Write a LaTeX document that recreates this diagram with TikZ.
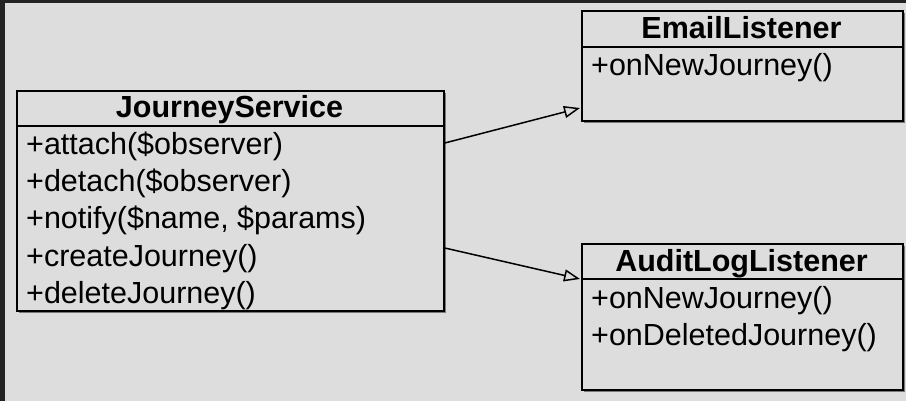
\documentclass[tikz,border=0pt]{standalone}
\usepackage{fontspec}
\setmainfont{Liberation Sans}
\usetikzlibrary{arrows.meta,shadows}

\definecolor{canvas}{HTML}{DDDDDD}
\definecolor{frame}{HTML}{232323}

\tikzset{
  classbox/.style={draw=black, line width=1.8pt, fill=canvas, inner sep=0pt,
    anchor=north west,
    drop shadow={shadow xshift=2pt, shadow yshift=-2pt, opacity=0.45, fill=black}},
  divider/.style={draw=black, line width=1.8pt},
  classname/.style={anchor=base, inner sep=0pt, font=\fontsize{30.5}{36}\selectfont\bfseries},
  member/.style={anchor=base west, inner sep=0pt, font=\fontsize{30.5}{36}\selectfont},
  observes/.style={draw=black, line width=1.5pt,
    -{Triangle[open, length=16pt, width=12pt, line width=1.5pt]}}
}

\begin{document}
\begin{tikzpicture}[x=1pt, y=-1pt]
  % page background with the dark frame on the top and left
  \fill[frame] (0,0) rectangle (906,401);
  \fill[canvas] (5,3) rectangle (906,401);
  \useasboundingbox (0,0) rectangle (906,401);

  % JourneyService
  \node[classbox, minimum width=427pt, minimum height=220pt] (js) at (16,90) {};
  \draw[divider] (js.west |- 0,126) -- (js.east |- 0,126);
  \node[classname] (jsname) at (229.5,118) {JourneyService};
  \node[member] (jsm1) at (26,155) {+attach(\$observer)};
  \node[member] (jsm2) at (26,192) {+detach(\$observer)};
  \node[member] (jsm3) at (26,229) {+notify(\$name, \$params)};
  \node[member] (jsm4) at (26,266) {+createJourney()};
  \node[member] (jsm5) at (26,303) {+deleteJourney()};

  % EmailListener
  \node[classbox, minimum width=321pt, minimum height=110pt] (email) at (581,10) {};
  \draw[divider] (email.west |- 0,47) -- (email.east |- 0,47);
  \node[classname] (emailname) at (741.5,39) {EmailListener};
  \node[member] (emailm1) at (591,76) {+onNewJourney()};

  % AuditLogListener
  \node[classbox, minimum width=321pt, minimum height=146pt] (audit) at (581,243) {};
  \draw[divider] (audit.west |- 0,279) -- (audit.east |- 0,279);
  \node[classname] (auditname) at (741.5,271) {AuditLogListener};
  \node[member] (auditm1) at (591,308) {+onNewJourney()};
  \node[member] (auditm2) at (591,345) {+onDeletedJourney()};

  % observer links
  \draw[observes] (js.east |- 0,143) -- ([xshift=-1pt]email.west |- 0,108);
  \draw[observes] (js.east |- 0,248) -- ([xshift=-1pt]audit.west |- 0,279);
\end{tikzpicture}
\end{document}
